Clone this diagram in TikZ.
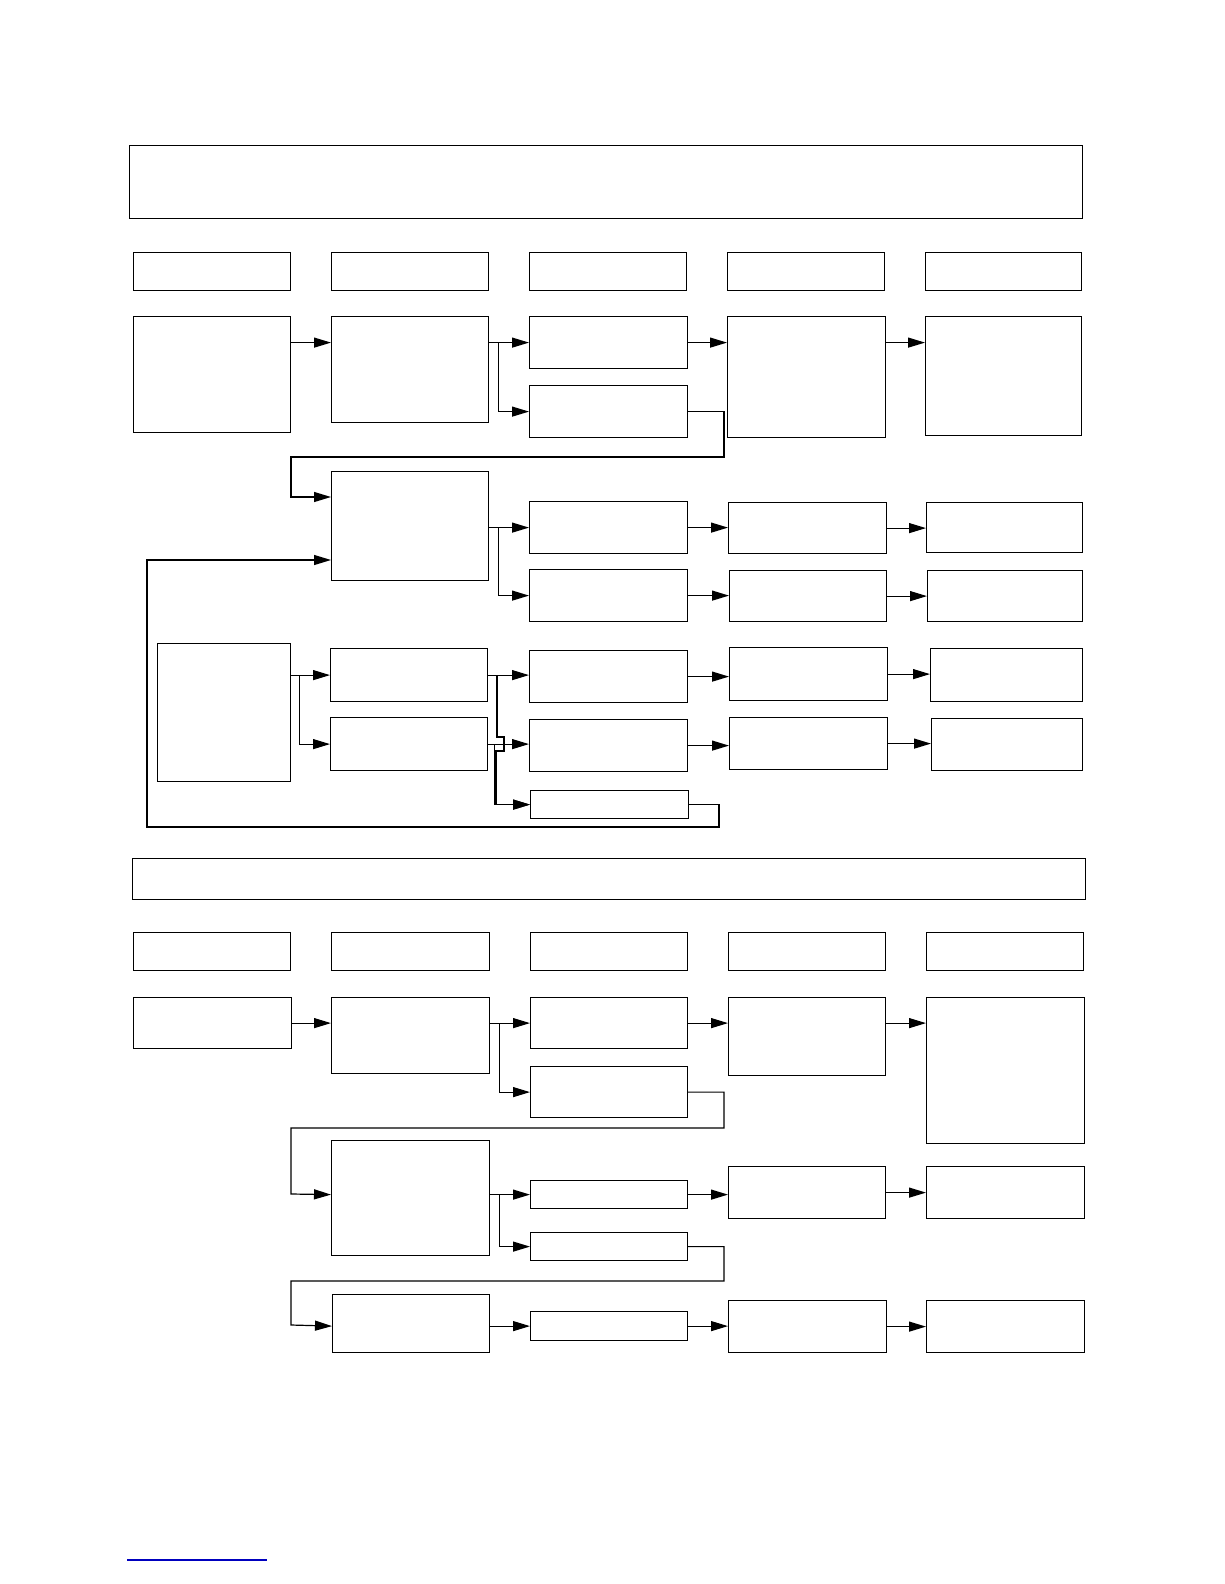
\documentclass[tikz,border=0pt]{standalone}
\usepackage{tikz}
\usetikzlibrary{arrows.meta}
\usetikzlibrary{calc}
\pgfdeclarelayer{nodelayer}
\pgfdeclarelayer{edgelayer}
\pgfsetlayers{edgelayer,nodelayer,main}
\tikzstyle{box}=[draw, line width=1.2pt, inner sep=0pt, anchor=north west]
\tikzstyle{flow}=[line width=1.2pt, -{Triangle[length=17pt,width=10pt]}]
\begin{document}
\begin{tikzpicture}[x=1pt, y=-1pt]
	\useasboundingbox (0, 0) rectangle (1224, 1584);
	\begin{pgfonlayer}{nodelayer}
		% first part
		\node [style=box, minimum width=953pt, minimum height=73pt] (0) at (129, 145) {};
		\node [style=box, minimum width=157pt, minimum height=38pt] (1) at (133, 252) {};
		\node [style=box, minimum width=157pt, minimum height=38pt] (2) at (331, 252) {};
		\node [style=box, minimum width=157pt, minimum height=38pt] (3) at (529, 252) {};
		\node [style=box, minimum width=157pt, minimum height=38pt] (4) at (727, 252) {};
		\node [style=box, minimum width=156pt, minimum height=38pt] (5) at (925, 252) {};
		\node [style=box, minimum width=157pt, minimum height=116pt] (6) at (133, 316) {};
		\node [style=box, minimum width=157pt, minimum height=106pt] (7) at (331, 316) {};
		\node [style=box, minimum width=158pt, minimum height=52pt] (8) at (529, 316) {};
		\node [style=box, minimum width=158pt, minimum height=52pt] (9) at (529, 385) {};
		\node [style=box, minimum width=158pt, minimum height=121pt] (10) at (727, 316) {};
		\node [style=box, minimum width=156pt, minimum height=119pt] (11) at (925, 316) {};
		\node [style=box, minimum width=157pt, minimum height=109pt] (12) at (331, 471) {};
		\node [style=box, minimum width=158pt, minimum height=52pt] (13) at (529, 501) {};
		\node [style=box, minimum width=158pt, minimum height=52pt] (14) at (529, 569) {};
		\node [style=box, minimum width=158pt, minimum height=51pt] (15) at (728, 502) {};
		\node [style=box, minimum width=157pt, minimum height=51pt] (16) at (729, 570) {};
		\node [style=box, minimum width=156pt, minimum height=50pt] (17) at (926, 502) {};
		\node [style=box, minimum width=155pt, minimum height=51pt] (18) at (927, 570) {};
		\node [style=box, minimum width=133pt, minimum height=138pt] (19) at (157, 643) {};
		\node [style=box, minimum width=157pt, minimum height=53pt] (20) at (330, 648) {};
		\node [style=box, minimum width=157pt, minimum height=53pt] (21) at (330, 717) {};
		\node [style=box, minimum width=158pt, minimum height=52pt] (22) at (529, 650) {};
		\node [style=box, minimum width=158pt, minimum height=52pt] (23) at (529, 719) {};
		\node [style=box, minimum width=158pt, minimum height=28pt] (24) at (530, 790) {};
		\node [style=box, minimum width=158pt, minimum height=53pt] (25) at (729, 647) {};
		\node [style=box, minimum width=158pt, minimum height=52pt] (26) at (729, 717) {};
		\node [style=box, minimum width=152pt, minimum height=53pt] (27) at (930, 648) {};
		\node [style=box, minimum width=151pt, minimum height=52pt] (28) at (931, 718) {};
		% second part
		\node [style=box, minimum width=953pt, minimum height=41pt] (29) at (132, 858) {};
		\node [style=box, minimum width=157pt, minimum height=38pt] (30) at (133, 932) {};
		\node [style=box, minimum width=158pt, minimum height=38pt] (31) at (331, 932) {};
		\node [style=box, minimum width=157pt, minimum height=38pt] (32) at (530, 932) {};
		\node [style=box, minimum width=157pt, minimum height=38pt] (33) at (728, 932) {};
		\node [style=box, minimum width=157pt, minimum height=38pt] (34) at (926, 932) {};
		\node [style=box, minimum width=158pt, minimum height=51pt] (35) at (133, 997) {};
		\node [style=box, minimum width=158pt, minimum height=76pt] (36) at (331, 997) {};
		\node [style=box, minimum width=157pt, minimum height=51pt] (37) at (530, 997) {};
		\node [style=box, minimum width=157pt, minimum height=51pt] (38) at (530, 1066) {};
		\node [style=box, minimum width=157pt, minimum height=78pt] (39) at (728, 997) {};
		\node [style=box, minimum width=158pt, minimum height=146pt] (40) at (926, 997) {};
		\node [style=box, minimum width=158pt, minimum height=115pt] (41) at (331, 1140) {};
		\node [style=box, minimum width=157pt, minimum height=28pt] (42) at (530, 1180) {};
		\node [style=box, minimum width=157pt, minimum height=28pt] (43) at (530, 1232) {};
		\node [style=box, minimum width=157pt, minimum height=52pt] (44) at (728, 1166) {};
		\node [style=box, minimum width=158pt, minimum height=52pt] (45) at (926, 1166) {};
		\node [style=box, minimum width=157pt, minimum height=58pt] (46) at (332, 1294) {};
		\node [style=box, minimum width=157pt, minimum height=29pt] (47) at (530, 1311) {};
		\node [style=box, minimum width=158pt, minimum height=52pt] (48) at (728, 1300) {};
		\node [style=box, minimum width=158pt, minimum height=52pt] (49) at (926, 1300) {};
	\end{pgfonlayer}
	\begin{pgfonlayer}{edgelayer}
		% first part
		\draw [style=flow] (6.east |- 8.west) to (7.west |- 8.west);
		\draw [style=flow] (7.east |- 8.west) to (8.west);
		\draw [style=flow] (7.east |- 8.west) -- ++(9, 0) |- (9.west);
		\draw [style=flow] (8.east) to (8.east -| 10.west);
		\draw [style=flow] (10.east |- 8.east) to (11.west |- 8.east);
		\draw [style=flow] (9.east) -| (724, 457) -| (291, 497) -- (12.west |- 0, 497);
		\draw [style=flow] (12.east |- 13.west) to (13.west);
		\draw [style=flow] (12.east |- 13.west) -- ++(9, 0) |- (14.west);
		\draw [style=flow] (13.east) to (13.east -| 15.west);
		\draw [style=flow] (15.east) to (15.east -| 17.west);
		\draw [style=flow] (14.east) to (14.east -| 16.west);
		\draw [style=flow] (16.east) to (16.east -| 18.west);
		\draw [style=flow] (19.east |- 20.west) to (20.west);
		\draw [style=flow] (19.east |- 20.west) -- ++(8, 0) |- (21.west);
		\draw [style=flow] (20.east) to (20.east -| 22.west);
		\draw [style=flow] (20.east) -| (497, 737) -- (504, 737) -- (504, 751) -- (496, 751) |- (24.west);
		\draw [style=flow] (21.east) to (21.east -| 23.west);
		\draw [style=flow] (21.east) -- ++(6, 0) |- (24.west);
		\draw [style=flow] (22.east) to (22.east -| 25.west);
		\draw [style=flow] (25.east) to (25.east -| 27.west);
		\draw [style=flow] (23.east) to (23.east -| 26.west);
		\draw [style=flow] (26.east) to (26.east -| 28.west);
		\draw [style=flow] (24.east) -| (719, 827) -| (147, 560) -- (12.west |- 0, 560);
		% second part
		\draw [style=flow] (35.east) to (35.east -| 36.west);
		\draw [style=flow] (36.east |- 37.west) to (37.west);
		\draw [style=flow] (36.east |- 37.west) -- ++(9, 0) |- (38.west);
		\draw [style=flow] (37.east) to (37.east -| 39.west);
		\draw [style=flow] (39.east |- 37.east) to (40.west |- 37.east);
		\draw [style=flow] (38.east) -| (724, 1128) -| (291, 1194) -- (41.west |- 42.west);
		\draw [style=flow] (41.east |- 42.west) to (42.west);
		\draw [style=flow] (41.east |- 42.west) -- ++(9, 0) |- (43.west);
		\draw [style=flow] (42.east) to (42.east -| 44.west);
		\draw [style=flow] (44.east) to (44.east -| 45.west);
		\draw [style=flow] (43.east) -| (724, 1281) -| (291, 1325) -- (46.west |- 47.west);
		\draw [style=flow] (46.east |- 47.west) to (47.west);
		\draw [style=flow] (47.east) to (47.east -| 48.west);
		\draw [style=flow] (48.east) to (48.east -| 49.west);
	\end{pgfonlayer}
	\draw [line width=1.2pt, blue!75!black] (127, 1560) -- (267, 1560);
\end{tikzpicture}
\end{document}
